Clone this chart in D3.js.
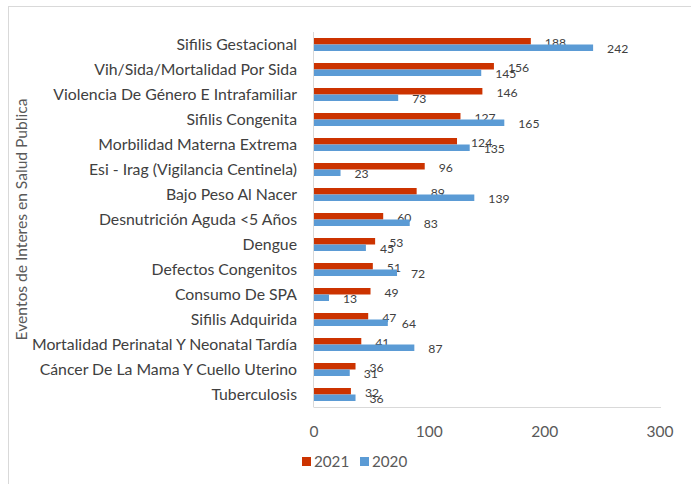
<!DOCTYPE html>
<html>
<head>
<meta charset="utf-8">
<script src="https://cdn.jsdelivr.net/npm/d3@7"></script>
<style>
  body { margin: 0; background: #fff; }
  svg { font-family: Lato, "Liberation Sans", Arial, sans-serif; }
</style>
</head>
<body>
<svg id="chart" width="691" height="484"></svg>
<script>
'use strict';

const categories = [
  'Sifilis Gestacional',
  'Vih/Sida/Mortalidad Por Sida',
  'Violencia De Género E Intrafamiliar',
  'Sifilis Congenita',
  'Morbilidad Materna Extrema',
  'Esi - Irag (Vigilancia Centinela)',
  'Bajo Peso Al Nacer',
  'Desnutrición Aguda <5 Años',
  'Dengue',
  'Defectos Congenitos',
  'Consumo De SPA',
  'Sifilis Adquirida',
  'Mortalidad Perinatal Y Neonatal Tardía',
  'Cáncer De La Mama Y Cuello Uterino',
  'Tuberculosis'
];
const values2021 = [188, 156, 146, 127, 124, 96, 89, 60, 53, 51, 49, 47, 41, 36, 32];
const values2020 = [242, 145, 73, 165, 135, 23, 139, 83, 45, 72, 13, 64, 87, 31, 36];
const seriesNames = ['2021', '2020'];
const seriesColors = ['#cc3300', '#5b9bd5'];
const xTicks = [0, 100, 200, 300];
const axisTitle = 'Eventos de Interes en Salud Publica';

const svg = d3.select('#chart');

// chart frame (only top/left edges fall inside the picture)
svg.append('rect')
  .attr('x', 8.5).attr('y', 6.5)
  .attr('width', 720).attr('height', 520)
  .attr('fill', 'none').attr('stroke', '#d9d9d9');

const plot = { left: 314, right: 660, top: 32, bottom: 407 };

const x = d3.scaleLinear().domain([0, 300]).range([plot.left, plot.right]);
const y = d3.scaleBand().domain(categories).range([plot.top, plot.bottom])
  .paddingInner(0.48).paddingOuter(0.24);
const ySub = d3.scaleBand().domain(seriesNames).range([0, y.bandwidth()]);

const rows = categories.map((c, i) => ({ cat: c, vals: [values2021[i], values2020[i]] }));

const groups = svg.append('g').selectAll('g')
  .data(rows)
  .join('g')
  .attr('transform', (d) => `translate(0,${y(d.cat)})`);

seriesNames.forEach((name, si) => {
  groups.append('rect')
    .attr('x', x(0))
    .attr('y', ySub(name))
    .attr('width', (d) => x(d.vals[si]) - x(0))
    .attr('height', ySub.bandwidth())
    .attr('fill', seriesColors[si]);

  groups.append('text')
    .attr('x', (d) => x(d.vals[si]) + 14)
    .attr('y', ySub(name) + ySub.bandwidth() / 2 + 1)
    .attr('dy', '0.35em')
    .attr('font-size', 12.2)
    .attr('fill', '#404040')
    .text((d) => d.vals[si]);
});

// axis lines
svg.append('line')
  .attr('x1', plot.left - 0.5).attr('x2', plot.left - 0.5)
  .attr('y1', plot.top).attr('y2', plot.bottom)
  .attr('stroke', '#d9d9d9');
svg.append('line')
  .attr('x1', plot.left - 0.5).attr('x2', plot.right + 1)
  .attr('y1', plot.bottom + 0.5).attr('y2', plot.bottom + 0.5)
  .attr('stroke', '#d9d9d9');

// category labels
svg.append('g').selectAll('text')
  .data(categories)
  .join('text')
  .attr('x', plot.left - 17)
  .attr('y', (d) => y(d) + y.bandwidth() / 2)
  .attr('dy', '0.35em')
  .attr('text-anchor', 'end')
  .attr('font-size', 15.8)
  .attr('fill', '#404040')
  .text((d) => d);

// x tick labels
svg.append('g').selectAll('text')
  .data(xTicks)
  .join('text')
  .attr('x', (d) => x(d))
  .attr('y', 432)
  .attr('dy', '0.35em')
  .attr('text-anchor', 'middle')
  .attr('font-size', 15.5)
  .attr('fill', '#595959')
  .text((d) => d);

// y axis title
svg.append('text')
  .attr('transform', `translate(22,${(plot.top + plot.bottom) / 2}) rotate(-90)`)
  .attr('dy', '0.35em')
  .attr('text-anchor', 'middle')
  .attr('font-size', 15.6)
  .attr('fill', '#595959')
  .text(axisTitle);

// legend
const legend = svg.append('g').attr('transform', 'translate(302,461)');
const legendX = [0, 58];
seriesNames.forEach((name, i) => {
  legend.append('rect')
    .attr('x', legendX[i]).attr('y', -4)
    .attr('width', 9).attr('height', 9)
    .attr('fill', seriesColors[i]);
  legend.append('text')
    .attr('x', legendX[i] + 12).attr('y', 0.5)
    .attr('dy', '0.35em')
    .attr('font-size', 15.2)
    .attr('fill', '#595959')
    .text(name);
});
</script>
</body>
</html>
